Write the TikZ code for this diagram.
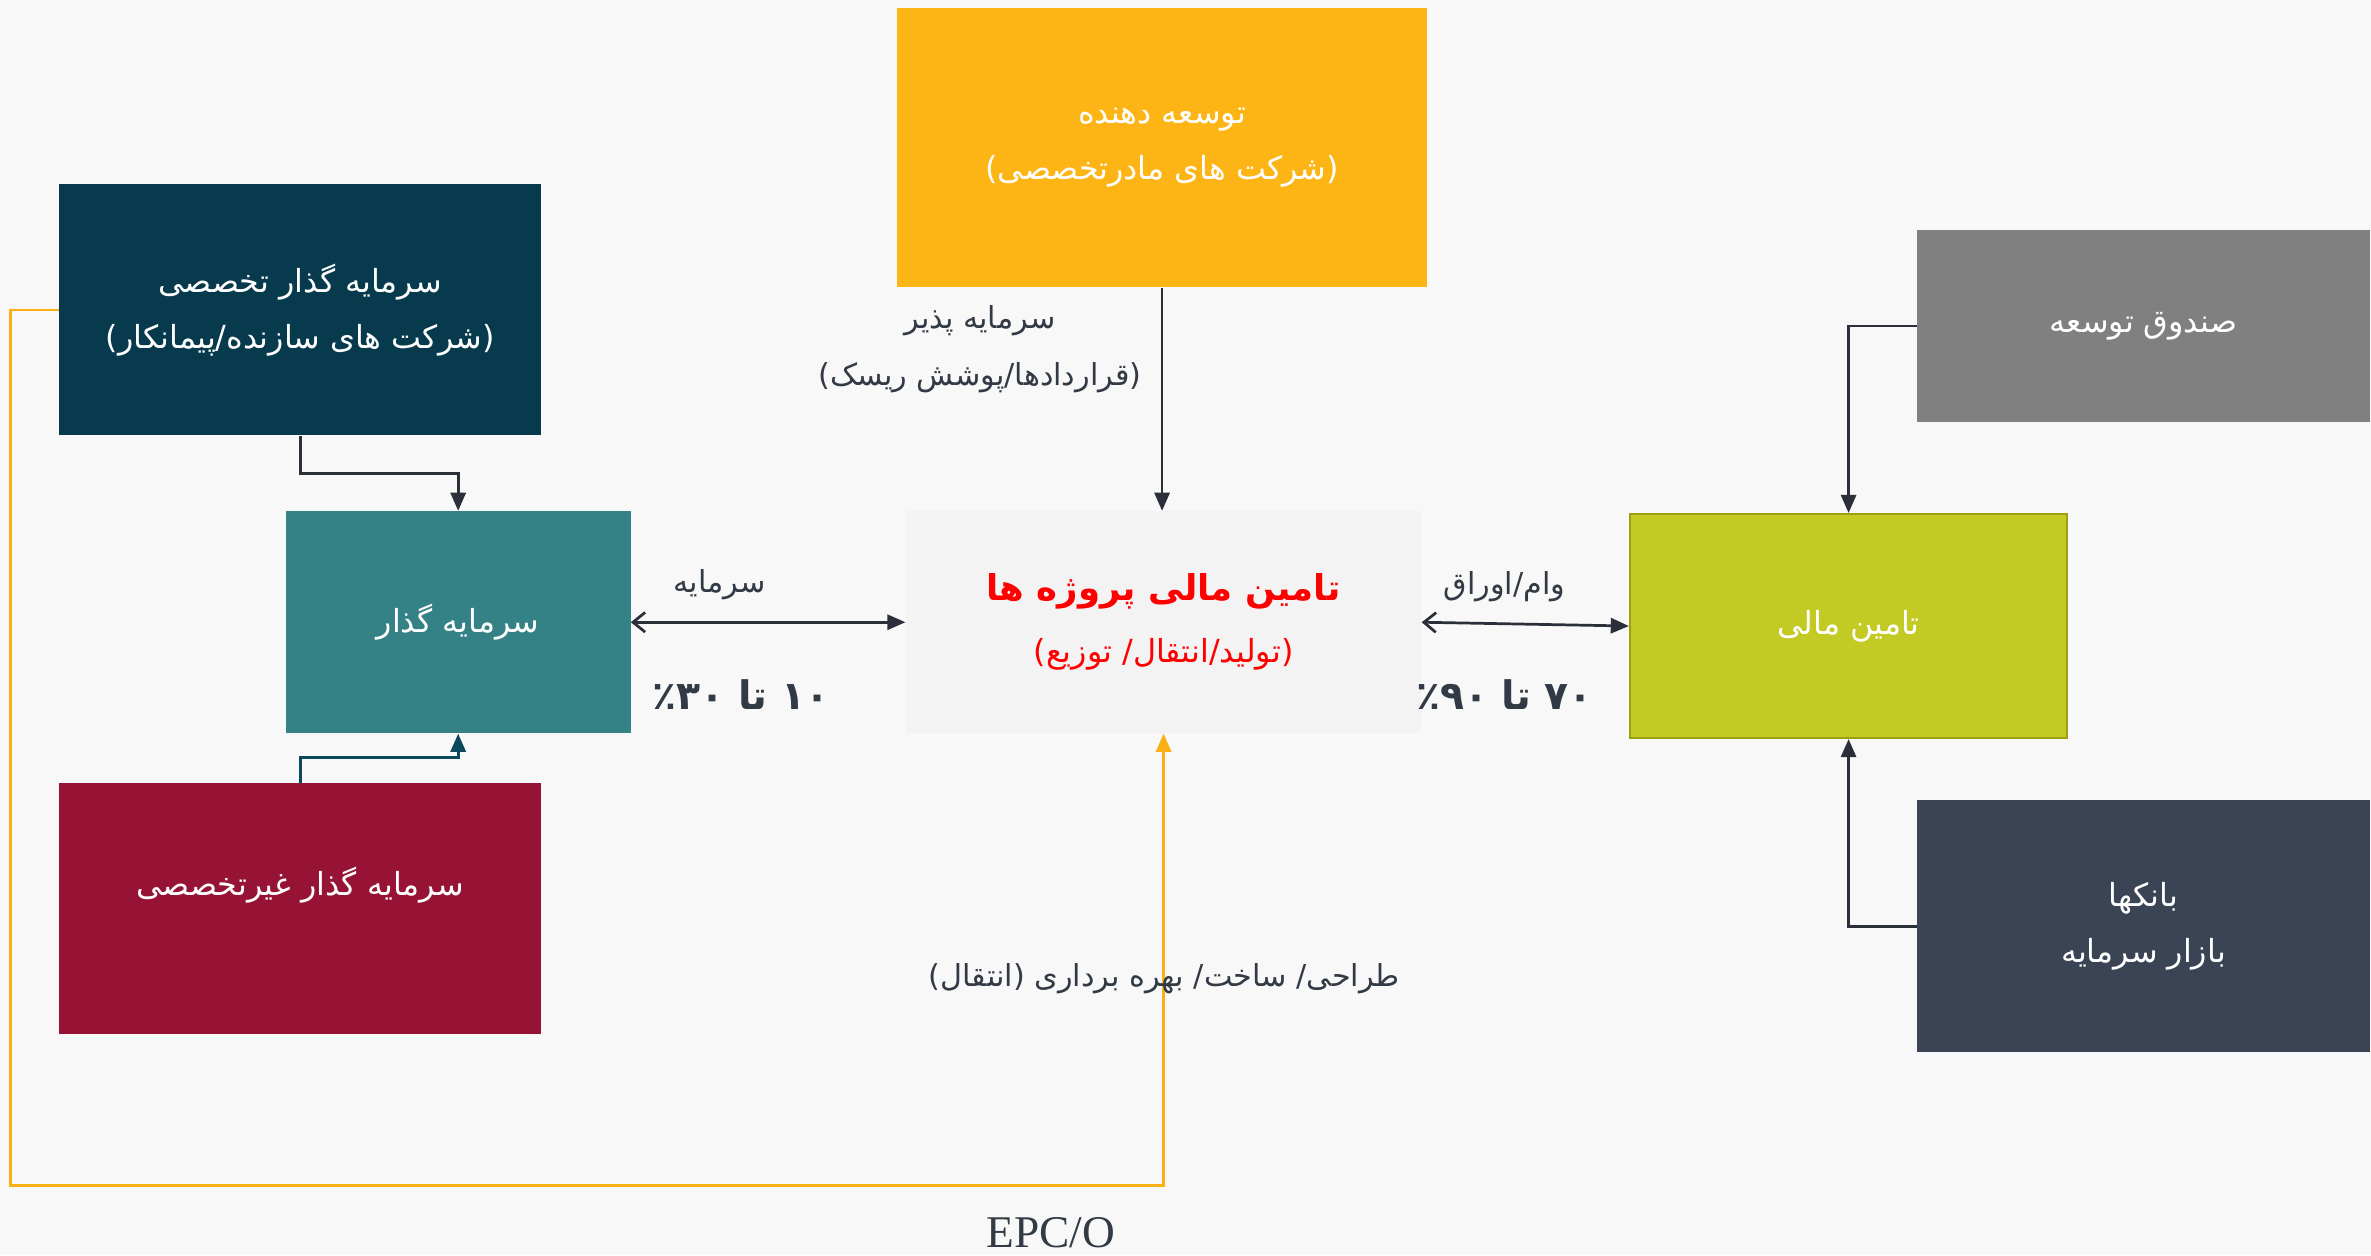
\documentclass[tikz,border=0pt]{standalone}
\usepackage{fontspec}
\TeXXeTstate=1
\newfontfamily\fa[Script=Arabic]{DejaVu Sans}
\newfontfamily\epcfont{Liberation Serif}
\usetikzlibrary{arrows.meta}
\newcommand\RTL[1]{\beginR #1\endR}
\definecolor{bgc}{HTML}{F8F8F8}
\definecolor{cspec}{HTML}{073A4D}
\definecolor{cinv}{HTML}{348285}
\definecolor{cnon}{HTML}{961336}
\definecolor{cdev}{HTML}{FDB515}
\definecolor{ccen}{HTML}{F3F3F3}
\definecolor{cfund}{HTML}{808080}
\definecolor{cfin}{HTML}{C3CA23}
\definecolor{cfinb}{HTML}{9C9F12}
\definecolor{cbank}{HTML}{3A4454}
\definecolor{dark}{HTML}{2A2F3A}
\definecolor{txt}{HTML}{323A46}
\definecolor{cor}{HTML}{FBB116}
\definecolor{cnl}{HTML}{0B4A5E}
\tikzset{
  box/.style={rectangle, inner sep=0pt, align=center, text=white, font=\fa\fontsize{21}{37}\selectfont},
  tip/.tip={Triangle[length=12pt,width=10pt]},
  conn/.style={draw=dark, line width=1.8pt, -tip},
  dbl/.style={draw=dark, line width=1.8pt, {Straight Barb[length=8pt,width=13pt]}-tip},
  lbl/.style={text=txt, align=center, font=\fa\fontsize{20}{38}\selectfont},
  pct/.style={text=txt, font=\fa\bfseries\fontsize{26}{30}\selectfont},
}
\begin{document}
\begin{tikzpicture}[x=1pt,y=-1pt]
\fill[bgc] (0,0) rectangle (1568,830);
\useasboundingbox (0,0) rectangle (1568,830);
% boxes
\node[box, fill=cspec, minimum width=319pt, minimum height=166pt] (spec) at (198.5,205)
  {\RTL{سرمایه گذار تخصصی}\\\RTL{(شرکت های سازنده/پیمانکار)}};
\node[box, fill=cinv, minimum width=228pt, minimum height=147pt] (inv) at (303,411.5)
  {\RTL{سرمایه گذار}};
\node[box, fill=cnon, minimum width=319pt, minimum height=166pt] (non) at (198.5,601)
  {\RTL{سرمایه گذار غیرتخصصی}\\\mbox{}};
\node[box, fill=cdev, minimum width=351pt, minimum height=185pt] (dev) at (768.5,97.5)
  {\RTL{توسعه دهنده}\\\RTL{(شرکت های مادرتخصصی)}};
\node[box, fill=ccen, text=red, minimum width=341pt, minimum height=147pt] (cen) at (769.5,411.5)
  {{\bfseries\fontsize{23.5}{30}\selectfont\RTL{تامین مالی پروژه ها}}\\[4pt]\RTL{(تولید/انتقال/ توزیع)}};
\node[box, fill=cfund, minimum width=299pt, minimum height=127pt] (fund) at (1417.5,215.5)
  {\RTL{صندوق توسعه}};
\node[box, fill=cfin, draw=cfinb, line width=1.5pt, minimum width=289pt, minimum height=148pt] (fin) at (1222.5,414)
  {\RTL{تامین مالی}};
\node[box, fill=cbank, minimum width=299pt, minimum height=167pt] (bank) at (1417.5,612.5)
  {\RTL{بانکها}\\\RTL{بازار سرمایه}};
% connectors
\draw[conn] (spec.south) -- ++(0,25) -| (inv.north);
\draw[conn, draw=cnl] (non.north) -- ++(0,-17) -| (inv.south);
\draw[conn] (dev.south) -- (dev.south |- cen.north);
\draw[dbl] (inv.east) -- (cen.west);
\draw[dbl] (cen.east) -- (fin.west);
\draw[conn] (fund.west) -| (fin.north);
\draw[conn] (bank.west) -| (fin.south);
\coordinate (epcA) at (7,784);
\draw[draw=cor, line width=1.8pt, -tip] (spec.west) -| (epcA) -| (cen.south);
% labels
\node[lbl] (ldev) at (648,231) {\RTL{سرمایه پذیر}\\\RTL{(قراردادها/پوشش ریسک)}};
\node[lbl] (linv) at (476,387) {\RTL{سرمایه}};
\node[pct] (pinv) at (490,459) {\RTL{۱۰ تا ٪۳۰}};
\node[lbl] (lfin) at (995,388) {\RTL{وام/اوراق}};
\node[pct] (pfin) at (995,459) {\RTL{۷۰ تا ٪۹۰}};
\node[lbl] (lepc) at (770,647) {\RTL{طراحی/ ساخت/ بهره برداری (انتقال)}};
\node[text=txt, font=\epcfont\fontsize{30}{36}\selectfont] (epc) at (695,815) {EPC/O};
\end{tikzpicture}
\end{document}
